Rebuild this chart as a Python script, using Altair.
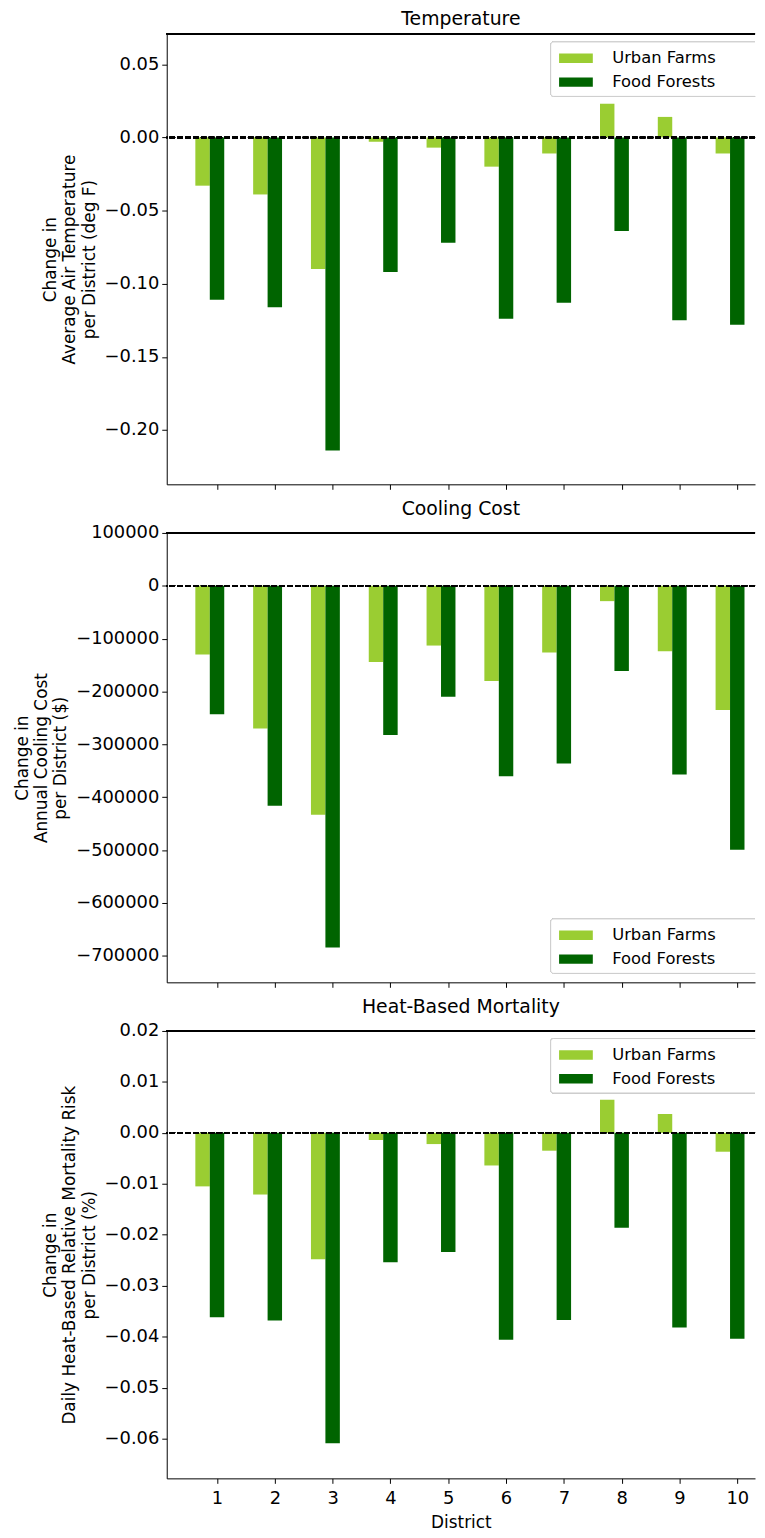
import altair as alt
import pandas as pd

districts = list(range(1, 11))
series = ["Urban Farms", "Food Forests"]
colors = ["#9acd32", "#006400"]

temp_urban = [-0.033, -0.039, -0.090, -0.003, -0.007, -0.020, -0.011, 0.023, 0.014, -0.011]
temp_forest = [-0.111, -0.116, -0.214, -0.092, -0.072, -0.124, -0.113, -0.064, -0.125, -0.128]

cost_urban = [-130000, -270000, -433000, -144000, -113000, -180000, -126000, -29000, -124000, -235000]
cost_forest = [-243000, -416000, -684000, -282000, -210000, -360000, -336000, -161000, -357000, -499000]

mort_urban = [-0.0105, -0.0121, -0.0248, -0.0014, -0.0022, -0.0064, -0.0035, 0.0065, 0.0037, -0.0037]
mort_forest = [-0.0362, -0.0368, -0.0609, -0.0254, -0.0234, -0.0406, -0.0367, -0.0186, -0.0382, -0.0404]

temp_ticks = [-0.20, -0.15, -0.10, -0.05, 0.00, 0.05]
cost_ticks = [-700000, -600000, -500000, -400000, -300000, -200000, -100000, 0, 100000]
mort_ticks = [-0.06, -0.05, -0.04, -0.03, -0.02, -0.01, 0.00, 0.01, 0.02]

W = 593
FONT = "DejaVu Sans"


def panel(urban, forest, title, ytitle, ydomain, yticks, yfmt, height, frame_top, show_x):
    df = pd.DataFrame({
        "District": districts * 2,
        "Series": [s for s in series for _ in districts],
        "Value": urban + forest,
    })
    xaxis = alt.Axis(values=districts, labels=show_x, title="District" if show_x else None,
                     grid=False, tickSize=5, labelPadding=6, titlePadding=8)
    bars = alt.Chart(df).transform_calculate(
        x0="datum.District + (datum.Series == 'Urban Farms' ? -0.375 : -0.125)",
        x1="datum.District + (datum.Series == 'Urban Farms' ? -0.125 : 0.125)",
    ).mark_bar().encode(
        x=alt.X("x0:Q", scale=alt.Scale(domain=[0.13, 10.307], nice=False, zero=False), axis=xaxis),
        x2="x1:Q",
        y=alt.Y("Value:Q", scale=alt.Scale(domain=ydomain, nice=False, zero=False),
                axis=alt.Axis(values=yticks, format=yfmt, title=ytitle, grid=False, tickSize=5,
                              labelPadding=3, titlePadding=6)),
        y2=alt.datum(0),
        color=alt.Color("Series:N", scale=alt.Scale(domain=series, range=colors),
                        legend=alt.Legend(orient="none", legendX=404, legendY=frame_top + 8.1,
                                          title=None, padding=0, rowPadding=7,
                                          symbolType="M-2,-0.56L2,-0.56L2,0.56L-2,0.56Z",
                                          symbolSize=289, symbolStrokeWidth=0,
                                          labelOffset=28, labelFontSize=16.5, labelFont=FONT,
                                          labelColor="black")),
    )
    zero = alt.Chart(df).mark_rule(color="black", strokeWidth=1.5, strokeDash=[5.5, 2.4]).encode(
        y=alt.datum(0))
    top = alt.Chart(df).mark_rule(color="black", strokeWidth=1).encode(y=alt.value(0))
    frame = alt.Chart(df).mark_rect(fill="white", fillOpacity=0.8, stroke="#cccccc", strokeWidth=1,
                                    cornerRadius=3, clip=True).encode(
        x=alt.value(387), x2=alt.value(W + 10), y=alt.value(frame_top), y2=alt.value(frame_top + 55))
    return alt.layer(bars, zero, top, frame).properties(
        width=W, height=height, title=alt.Title(title))


p1 = panel(temp_urban, temp_forest, "Temperature",
           ["Change in", "Average Air Temperature", "per District (deg F)"],
           [-0.2371, 0.0707], temp_ticks, ".2f", 454, 8, False)
p2 = panel(cost_urban, cost_forest, "Cooling Cost",
           ["Change in", "Annual Cooling Cost", "per District ($)"],
           [-750000, 100000], cost_ticks, "d", 453, 389, False)
p3 = panel(mort_urban, mort_forest, "Heat-Based Mortality",
           ["Change in", "Daily Heat-Based Relative Mortality Risk", "per District (%)"],
           [-0.0678, 0.02], mort_ticks, ".2f", 451, 7.6, True)

chart = alt.vconcat(p1, p2, p3, spacing=9).resolve_legend(color="independent").properties(
    padding={"left": 4, "top": -5, "right": 0, "bottom": 4}
).configure(background="white").configure_view(stroke="transparent").configure_axis(
    domainColor="black", tickColor="black", labelColor="black", titleColor="black",
    labelFont=FONT, titleFont=FONT, labelFontSize=18, titleFontSize=17, titleFontWeight="normal",
    titleLineHeight=19.5, domainWidth=1, tickWidth=1,
).configure_title(
    font=FONT, fontSize=19, fontWeight="normal", color="black", anchor="middle", offset=5,
)

chart.save("out.html", embed_options={"renderer": "svg", "actions": False})
